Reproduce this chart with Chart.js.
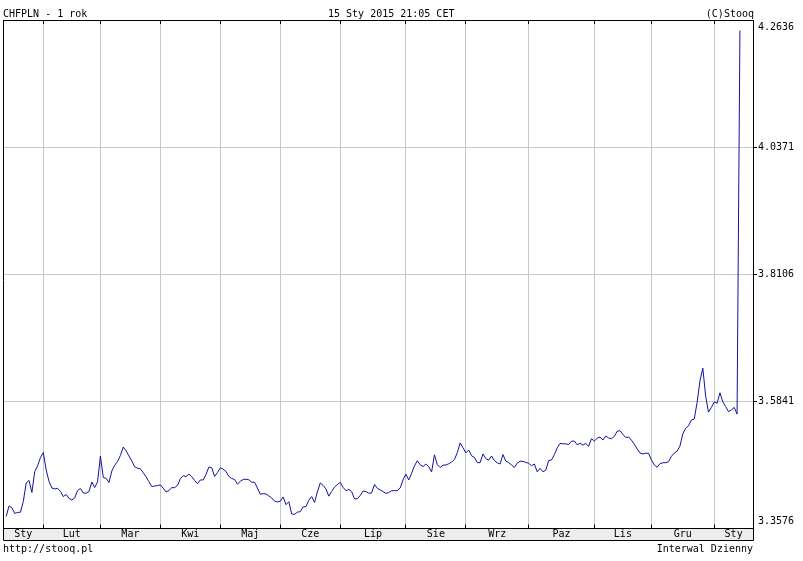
<!DOCTYPE html>
<html>
<head>
<meta charset="utf-8">
<script src="https://cdn.jsdelivr.net/npm/chart.js@4.4.1/dist/chart.umd.min.js"></script>
<style>
html,body{margin:0;padding:0;background:#fff;}
#wrap{position:relative;width:803px;height:561px;overflow:hidden;background:#fff;}
canvas{position:absolute;left:0;top:0;}
.t{position:absolute;font:10px/12px "DejaVu Sans Mono",monospace;color:#000;white-space:pre;}
</style>
</head>
<body>
<div id="wrap">
<canvas id="c" width="803" height="561"></canvas>
<div class="t" style="left:3px;top:8px">CHFPLN - 1 rok</div>
<div class="t" style="left:328px;top:8px">15 Sty 2015 21:05 CET</div>
<div class="t" style="right:49px;top:8px">(C)Stooq</div>
<div class="t" style="left:3px;top:543px">http://stooq.pl</div>
<div class="t" style="right:50px;top:543px">Interwal Dzienny</div>
</div>
<script>
// Daily CHFPLN closes, 15 Jan 2014 .. 15 Jan 2015 (trading days)
const values = [
3.3791,3.3978,3.3943,3.3845,3.3862,3.3866,3.4058,3.4387,3.4432,3.4218,
3.4592,3.4690,3.4841,3.4930,3.4619,3.4414,3.4298,3.4281,3.4293,3.4236,
3.4144,3.4183,3.4112,3.4085,3.4120,3.4254,3.4289,3.4209,3.4204,3.4236,
3.4405,3.4307,3.4405,3.4868,3.4485,3.4471,3.4396,3.4601,3.4702,3.4770,
3.4877,3.5028,3.4960,3.4868,3.4779,3.4676,3.4649,3.4640,3.4569,3.4498,
3.4410,3.4322,3.4334,3.4341,3.4352,3.4295,3.4227,3.4254,3.4304,3.4304,
3.4343,3.4464,3.4517,3.4501,3.4547,3.4498,3.4432,3.4375,3.4441,3.4441,
3.4539,3.4672,3.4658,3.4503,3.4574,3.4658,3.4633,3.4592,3.4503,3.4466,
3.4450,3.4366,3.4416,3.4450,3.4455,3.4444,3.4400,3.4400,3.4298,3.4186,
3.4197,3.4192,3.4156,3.4120,3.4064,3.4049,3.4062,3.4138,3.4001,3.4053,
3.3836,3.3827,3.3868,3.3875,3.3960,3.3966,3.4080,3.4144,3.4040,3.4227,
3.4387,3.4343,3.4281,3.4152,3.4238,3.4313,3.4359,3.4398,3.4309,3.4249,
3.4272,3.4234,3.4103,3.4106,3.4165,3.4243,3.4236,3.4204,3.4209,3.4361,
3.4291,3.4265,3.4234,3.4201,3.4217,3.4250,3.4250,3.4250,3.4298,3.4441,
3.4544,3.4441,3.4560,3.4690,3.4784,3.4711,3.4679,3.4724,3.4677,3.4583,
3.4889,3.4715,3.4663,3.4704,3.4708,3.4729,3.4759,3.4805,3.4926,3.5101,
3.5014,3.4923,3.4975,3.4871,3.4843,3.4749,3.4749,3.4905,3.4822,3.4793,
3.4868,3.4786,3.4747,3.4725,3.4893,3.4777,3.4749,3.4709,3.4663,3.4740,
3.4775,3.4772,3.4754,3.4738,3.4695,3.4725,3.4585,3.4647,3.4587,3.4615,
3.4786,3.4797,3.4891,3.5012,3.5092,3.5085,3.5085,3.5071,3.5131,3.5135,
3.5067,3.5094,3.5062,3.5090,3.5040,3.5176,3.5135,3.5184,3.5206,3.5152,
3.5224,3.5188,3.5176,3.5217,3.5309,3.5318,3.5256,3.5197,3.5206,3.5149,
3.5080,3.4994,3.4921,3.4905,3.4916,3.4916,3.4798,3.4709,3.4668,3.4731,
3.4747,3.4749,3.4766,3.4862,3.4918,3.4955,3.5046,3.5263,3.5361,3.5405,
3.5510,3.5526,3.5820,3.6206,3.6434,3.5935,3.5649,3.5733,3.5830,3.5807,
3.5994,3.5834,3.5750,3.5658,3.5690,3.5733,3.5615,4.2448
];
// month labels (categories) and index of first trading day of each month
const monthNames = ['Sty','Lut','Mar','Kwi','Maj','Cze','Lip','Sie','Wrz','Paz','Lis','Gru','Sty'];
const monthStarts = [13,33,54,75,96,117,140,161,183,206,226,248];
// y tick labels
const yTickLabels = ['3.3576','3.5841','3.8106','4.0371','4.2636'];

const X_MIN = -1.12, X_MAX = 261.58;
const yVals = yTickLabels.map(Number);
const bounds = [X_MIN].concat(monthStarts, [X_MAX]);
const labelPos = monthNames.map((_, i) => (bounds[i] + bounds[i + 1]) / 2);
const FONT = {family: "'DejaVu Sans Mono', monospace", size: 10};
const GRID = '#c8c8c8';

const al = p => Math.round(p - 0.5) + 0.5;
const frame = {
  id: 'frame',
  afterDraw(chart) {
    const ctx = chart.ctx, a = chart.chartArea, lab = chart.scales.xLab;
    ctx.save();
    ctx.strokeStyle = '#000';
    ctx.lineWidth = 1;
    ctx.beginPath();
    const l = al(a.left), r = al(a.right), t = al(a.top), b = al(lab.bottom);
    ctx.moveTo(l, t); ctx.lineTo(l, b); ctx.lineTo(r, b); ctx.lineTo(r, t);
    ctx.stroke();
    ctx.restore();
  }
};

new Chart(document.getElementById('c'), {
  type: 'line',
  data: {
    datasets: [{
      data: values.map((v, i) => ({x: i, y: v})),
      borderColor: '#12129e',
      borderWidth: 1,
      pointRadius: 0,
      tension: 0,
      fill: false
    }]
  },
  options: {
    responsive: false,
    animation: false,
    devicePixelRatio: 1,
    layout: {padding: {left: 3, top: 20, right: 0, bottom: 20.5}},
    plugins: {legend: {display: false}, tooltip: {enabled: false}, title: {display: false}},
    scales: {
      x: {
        type: 'linear', axis: 'x', position: 'bottom', weight: 0, display: true,
        min: X_MIN, max: X_MAX,
        afterBuildTicks: s => { s.ticks = monthStarts.map(v => ({value: v})); },
        ticks: {display: false},
        grid: {color: GRID, lineWidth: 1, tickColor: '#000', tickLength: -4, drawTicks: true},
        border: {display: true, color: '#000', width: 1},
        afterFit: s => { s.height = 0; }
      },
      xTop: {
        type: 'linear', axis: 'x', position: 'top', display: true,
        min: X_MIN, max: X_MAX,
        afterBuildTicks: s => { s.ticks = monthStarts.map(v => ({value: v})); },
        ticks: {display: false},
        grid: {drawOnChartArea: false, tickColor: '#000', tickLength: -4, drawTicks: true},
        border: {display: true, color: '#000', width: 1},
        afterFit: s => { s.height = 0; }
      },
      xLab: {
        type: 'linear', axis: 'x', position: 'bottom', weight: 1, display: true,
        min: X_MIN, max: X_MAX,
        afterBuildTicks: s => { s.ticks = labelPos.map(v => ({value: v})); },
        ticks: {
          callback: (v, i) => monthNames[i],
          font: FONT, color: '#000', padding: 0,
          maxRotation: 0, minRotation: 0, autoSkip: false
        },
        grid: {display: false, drawTicks: false},
        border: {display: false},
        backgroundColor: '#ededed',
        afterFit: s => { s.height = 12; }
      },
      y: {
        type: 'linear', position: 'right', display: true,
        min: yVals[0], max: yVals[yVals.length - 1],
        afterBuildTicks: s => { s.ticks = yVals.map(v => ({value: v})); },
        ticks: {
          callback: (v, i) => i === 0 ? [yTickLabels[0], ''] :
                    (i === yVals.length - 1 ? ['', yTickLabels[i]] : yTickLabels[i]),
          font: {family: FONT.family, size: 10, lineHeight: '15px'},
          color: '#000', padding: 1, autoSkip: false
        },
        grid: {
          color: c => (c.index === 0 || c.index === yVals.length - 1) ? 'rgba(0,0,0,0)' : GRID,
          tickColor: c => (c.index === 0 || c.index === yVals.length - 1) ? 'rgba(0,0,0,0)' : '#000',
          tickLength: 4, lineWidth: 1
        },
        border: {display: true, color: '#000', width: 1},
        afterFit: s => { s.width = 50; }
      }
    }
  },
  plugins: [frame]
});
</script>
</body>
</html>
